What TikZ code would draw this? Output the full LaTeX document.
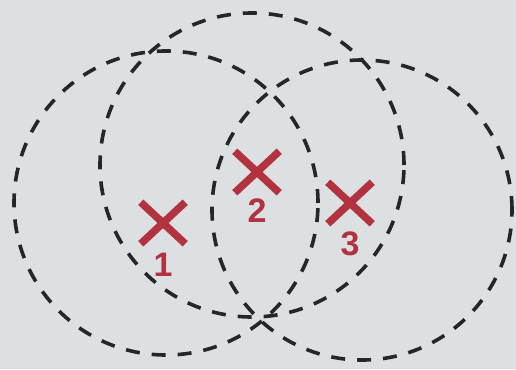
\documentclass[tikz,border=0pt]{standalone}
\usepackage{fontspec}
\setmainfont{Liberation Sans}
\usetikzlibrary{positioning,shapes.misc}

\definecolor{paper}{RGB}{221,224,226}
\definecolor{ink}{RGB}{38,38,40}
\definecolor{markred}{RGB}{178,50,64}

\begin{document}
\begin{tikzpicture}[
    x=1pt, y=-1pt, % pixel-like units, y downwards
    % dashed range circles
    rangecirc/.style = {draw=ink, line width=3.6pt, dash pattern=on 14pt off 12pt},
    % red cross and its number
    xmark/.style = {cross out, draw=markred, line width=7.5pt, minimum width=37pt, minimum height=34pt, inner sep=0pt},
    num/.style   = {text=markred, font=\fontsize{34}{34}\selectfont\bfseries, inner sep=0pt}
  ]

  % ===== Background =====
  \fill[paper] (0,0) rectangle (516,369);
  \useasboundingbox (0,0) rectangle (516,369);

  % ===== Circle centres =====
  \coordinate (cA) at (166,203);
  \coordinate (cB) at (252,165);
  \coordinate (cC) at (362,210);

  \draw[rangecirc] (cA) circle [radius=152pt];
  \draw[rangecirc] (cB) circle [radius=152pt];
  \draw[rangecirc] (cC) circle [radius=150pt];

  % ===== Crosses =====
  \node[xmark] (x1) at (163,223) {};
  \node[xmark] (x2) at (257,172) {};
  \node[xmark] (x3) at (350,203) {};

  \node[num, below=9pt of x1] (n1) {1};
  \node[num, below=6pt of x2] (n2) {2};
  \node[num, below=8pt of x3] (n3) {3};

\end{tikzpicture}
\end{document}
